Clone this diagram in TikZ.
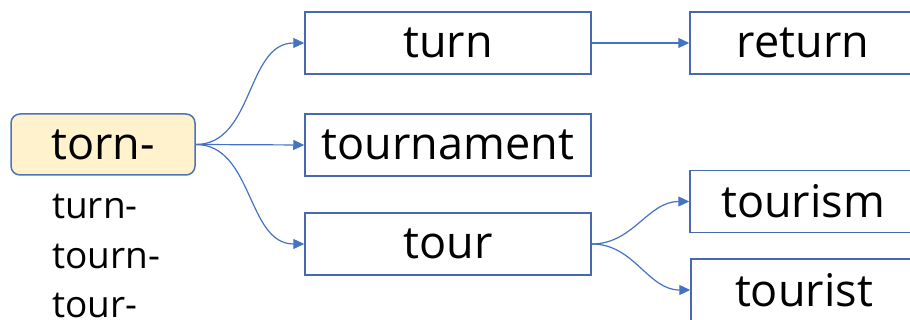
\documentclass[tikz,border=0pt]{standalone}
\usepackage{fontspec}
\setmainfont{Open Sans}
\usetikzlibrary{arrows.meta}
\definecolor{linkblue}{RGB}{68,114,196}
\definecolor{boxblue}{RGB}{72,104,178}
\definecolor{rootfill}{RGB}{255,242,204}
\tikzset{
  wordbox/.style={draw=boxblue, line width=1.5pt, minimum width=286pt, minimum height=62pt,
    inner sep=0pt, font=\fontsize{45}{54}\selectfont},
  rootbox/.style={wordbox, draw=linkblue!85!gray, fill=rootfill, rounded corners=9pt,
    minimum width=184pt, minimum height=61pt},
  stem/.style={anchor=base west, inner sep=0pt, font=\fontsize{37}{44}\selectfont},
  branch/.style={draw=linkblue, line width=1.2pt, -{Triangle[length=11pt,width=10pt]}}
}
\begin{document}
\begin{tikzpicture}[x=1pt,y=1pt]
  \useasboundingbox (0,0) rectangle (910,320);
  \clip (0,0) rectangle (910,320);
  % root and its variants
  \node[rootbox] (torn) at (103,175.5) {torn-};
  \node[stem] (turnstem) at (52,101) {turn-};
  \node[stem] (tournstem) at (52,51.5) {tourn-};
  \node[stem] (tourstem) at (52,2) {tour-};
  % first column
  \node[wordbox] (turn) at (448,277) {turn};
  \node[wordbox] (tournament) at (448,175) {tournament};
  \node[wordbox] (tour) at (448,76) {tour};
  % second column
  \node[wordbox, minimum width=226pt] (return) at (803,277) {return};
  \node[wordbox, minimum width=226pt] (tourism) at (803,118.5) {tourism};
  \node[wordbox, minimum width=226pt] (tourist) at (804,30) {tourist};
  \draw[branch] (torn.east) to[out=0,in=180] (turn.west);
  \draw[branch] (torn.east) -- (tournament.west);
  \draw[branch] (torn.east) to[out=0,in=180] (tour.west);
  \draw[branch] (turn.east) -- (return.west);
  \draw[branch] (tour.east) to[out=0,in=180] (tourism.west);
  \draw[branch] (tour.east) to[out=0,in=180] (tourist.west);
\end{tikzpicture}
\end{document}
